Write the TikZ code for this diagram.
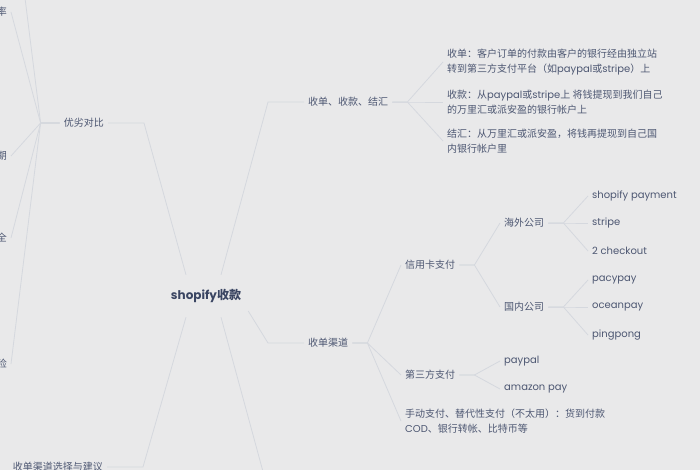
\documentclass[tikz,border=0pt]{standalone}
\usepackage{fontspec}
\setmainfont{Noto Sans CJK SC}
\newfontfamily\popfont{Poppins}
\newcommand{\pop}[1]{{\popfont #1}}
\definecolor{paper}{HTML}{E9E9EA}
\definecolor{ink}{HTML}{4D5772}
\definecolor{inkdark}{HTML}{3A4562}
\definecolor{branch}{HTML}{D5D8DE}

\begin{document}
\begin{tikzpicture}[x=1pt,y=-1pt,
  every node/.style={text=ink,font=\fontsize{10}{15}\selectfont,inner xsep=4pt,inner ysep=2pt},
  main node/.style={text=inkdark,font=\fontsize{12}{14}\selectfont\bfseries,minimum width=84pt,minimum height=42pt},
  right node/.style={anchor=west,align=left},
  left node/.style={anchor=east,align=right},
  brand/.style={font=\fontsize{10}{15}\selectfont\popfont},
  twig/.style={to path={-- ++(15,0) -- (\tikztotarget.west)}},
  ltwig/.style={to path={-- ++(-19,0) -- (\tikztotarget.east)}},
  bough/.style={to path={-- ([xshift=-36pt]\tikztotarget.west) -- (\tikztotarget.west)}},
  lbough/.style={to path={-- ([xshift=36pt]\tikztotarget.east) -- (\tikztotarget.east)}}]

  \fill[paper] (0,0) rectangle (700,470);
  \useasboundingbox (0,0) rectangle (700,470);

  \node[main node] (root) at (206,296) {\pop{shopify}收款};

  % right side
  \node[right node] (jh) at (304,102) {收单、收款、结汇};
  \node[right node] (sd1) at (443,62) {收单：客户订单的付款由客户的银行经由独立站\\转到第三方支付平台（如\pop{paypal}或\pop{stripe}）上};
  \node[right node] (sk1) at (443,102) {收款：从\pop{paypal}或\pop{stripe}上 将钱提现到我们自己\\的万里汇或派安盈的银行帐户上};
  \node[right node] (jh1) at (443,141) {结汇：从万里汇或派安盈，将钱再提现到自己国\\内银行帐户里};

  \node[right node] (qd) at (304,343) {收单渠道};
  \node[right node] (xyk) at (401,265) {信用卡支付};
  \node[right node] (dsf) at (401,375) {第三方支付};
  \node[right node] (sdzf) at (401,421) {手动支付、替代性支付（不太用）：货到付款\\\pop{COD}、银行转帐、比特币等};
  \node[right node] (hw) at (500,223) {海外公司};
  \node[right node] (gn) at (500,307) {国内公司};
  \node[right node,brand] (sp) at (588,196) {shopify payment};
  \node[right node,brand] (st) at (588,223) {stripe};
  \node[right node,brand] (ck) at (588,251) {2 checkout};
  \node[right node,brand] (pc) at (588,280) {pacypay};
  \node[right node,brand] (oc) at (588,307) {oceanpay};
  \node[right node,brand] (pg) at (588,335) {pingpong};
  \node[right node,brand] (pp) at (500,361) {paypal};
  \node[right node,brand] (am) at (500,389) {amazon pay};

  % left side, cut by the frame
  \node[left node] (yl) at (108,123) {优劣对比};
  \node[left node] (l1) at (11,12) {率};
  \node[left node] (l2) at (11,156) {期};
  \node[left node] (l3) at (11,238) {全};
  \node[left node] (l4) at (11,364) {险};
  \node[left node] (jy) at (107,467) {收单渠道选择与建议};
  \coordinate (up) at (24,-10);
  \coordinate (down) at (268,490);

  \path[draw=branch,line width=0.8pt]
    ([xshift=15pt]root.north) edge[bough] (jh)
    ([yshift=-15pt]root.east) edge[bough] (qd)
    ([xshift=-20pt]root.north) edge[lbough] (yl)
    ([xshift=-20pt]root.south) edge[lbough] (jy)
    ([xshift=15pt]root.south) edge (down)
    (jh.east) edge[twig] (sd1)
    (jh.east) edge[twig] (sk1)
    (jh.east) edge[twig] (jh1)
    (qd.east) edge[twig] (xyk)
    (qd.east) edge[twig] (dsf)
    (qd.east) edge[twig] (sdzf)
    (xyk.east) edge[twig] (hw)
    (xyk.east) edge[twig] (gn)
    (hw.east) edge[twig] (sp)
    (hw.east) edge[twig] (st)
    (hw.east) edge[twig] (ck)
    (gn.east) edge[twig] (pc)
    (gn.east) edge[twig] (oc)
    (gn.east) edge[twig] (pg)
    (dsf.east) edge[twig] (pp)
    (dsf.east) edge[twig] (am)
    (yl.west) edge[ltwig] (l1)
    (yl.west) edge[ltwig] (l2)
    (yl.west) edge[ltwig] (l3)
    (yl.west) edge[ltwig] (l4)
    (yl.west) edge[to path={-- ++(-19,0) -- (\tikztotarget)}] (up);
\end{tikzpicture}
\end{document}
